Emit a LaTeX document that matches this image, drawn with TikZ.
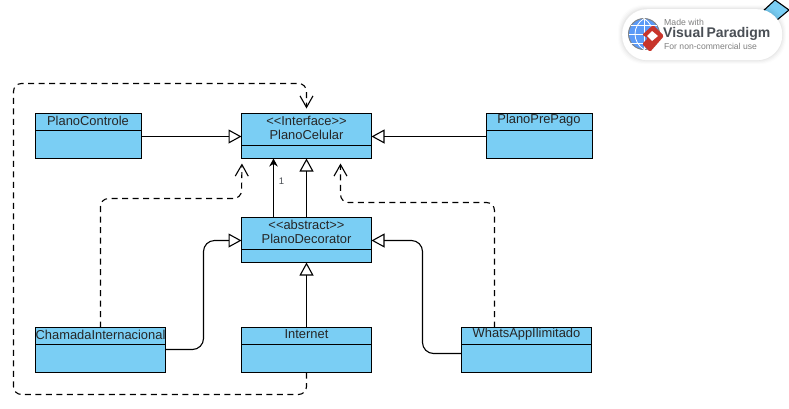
\documentclass[tikz,border=0pt]{standalone}
\usepackage{fontspec}
\setmainfont{Liberation Sans}
\usetikzlibrary{arrows.meta,calc}
\definecolor{cfill}{HTML}{7ACEF4}
\definecolor{ink}{HTML}{000000}
\definecolor{logogray}{HTML}{4A4F55}
\definecolor{logored}{HTML}{C8352B}
\tikzset{
  x=1pt,y=-1pt,
  cbox/.style={draw=ink,fill=cfill,line width=1.1pt,rectangle,inner sep=0pt,outer sep=0pt,anchor=north west,minimum height=45pt},
  ctext/.style={text=black!85,font=\fontsize{12.9}{14}\selectfont,align=center,anchor=center,inner sep=0pt},
  seprule/.style={draw=ink,line width=1.1pt},
  genline/.style={draw=ink,line width=1.1pt,-{Triangle[open,length=13pt,width=14pt,fill=white,line width=1.1pt]}},
  depline/.style={draw=ink,line width=1.1pt,dash pattern=on 6pt off 4.5pt,rounded corners=8pt,-{Straight Barb[length=11.5pt,width=13pt,line width=1.1pt]},shorten >=5pt},
  assocline/.style={draw=ink,line width=1.1pt,-{Stealth[length=8pt,width=8.5pt]}},
  genbend/.style={rounded corners=11pt}
}
\begin{document}
\begin{tikzpicture}
\useasboundingbox (0,0) rectangle (789,408);
% boxes
\node[cbox,minimum width=130pt] (cel) at (241.5,113.5) {};
\node[cbox,minimum width=130pt] (dec) at (241.5,217.5) {};
\node[cbox,minimum width=106pt] (ctl) at (35.5,113.5) {};
\node[cbox,minimum width=106pt] (pre) at (486.5,113.5) {};
\node[cbox,minimum width=130pt] (cha) at (35.5,327.5) {};
\node[cbox,minimum width=130pt] (int) at (241.5,327.5) {};
\node[cbox,minimum width=130pt] (wha) at (461.5,327.5) {};
% compartment rules
\draw[seprule] ($(cel.north west)+(0,32)$) -- ($(cel.north east)+(0,32)$);
\draw[seprule] ($(dec.north west)+(0,32)$) -- ($(dec.north east)+(0,32)$);
\draw[seprule] ($(ctl.north west)+(0,17)$) -- ($(ctl.north east)+(0,17)$);
\draw[seprule] ($(pre.north west)+(0,17)$) -- ($(pre.north east)+(0,17)$);
\draw[seprule] ($(cha.north west)+(0,17)$) -- ($(cha.north east)+(0,17)$);
\draw[seprule] ($(int.north west)+(0,17)$) -- ($(int.north east)+(0,17)$);
\draw[seprule] ($(wha.north west)+(0,17)$) -- ($(wha.north east)+(0,17)$);
% titles
\node[ctext] (t1a) at (306.5,120.5) {<{}<Interface>{}>};
\node[ctext] (t1b) at (306.5,134.5) {PlanoCelular};
\node[ctext] (t2a) at (306.5,224.5) {<{}<abstract>{}>};
\node[ctext] (t2b) at (306.5,238.5) {PlanoDecorator};
\node[ctext] (t3) at (88,120.5) {PlanoControle};
\node[ctext] (t4) at (539,120.5) {PlanoPrePago};
\node[ctext] (t5) at (100.5,334.5) {ChamadaInternacional};
\node[ctext] (t6) at (306.5,334.5) {Internet};
\node[ctext] (t7) at (526.5,334.5) {WhatsAppIlimitado};
% generalisations
\draw[genline] ($(ctl.north east)+(0,23)$) -- ($(cel.north west)+(0,23)$);
\draw[genline] ($(pre.north west)+(0,23)$) -- ($(cel.north east)+(0,23)$);
\draw[genline] (dec.north) -- (cel.south);
\draw[genline] (int.north) -- (dec.south);
\draw[genline,genbend] ($(cha.north east)+(0,22)$) -- ++(38,0) |- ($(dec.north west)+(0,23)$);
\draw[genline,genbend] ($(wha.north west)+(0,26)$) -- ++(-39,0) |- ($(dec.north east)+(0,23)$);
% association
\draw[assocline] ($(dec.north west)+(32,0)$) -- ($(cel.south west)+(32,0)$);
\node[inner sep=0pt,text=logogray,font=\fontsize{9.5}{10}\selectfont] (one) at (281.5,181) {1};
% dependencies
\draw[depline] (cha.north) -- (100.5,198.5) -- (241.5,198.5) -- ($(cel.south west)+(0.5,0)$);
\draw[depline] ($(wha.north west)+(33,0)$) -- (494.5,202.5) -- (340.5,202.5) -- ($(cel.south west)+(99,0)$);
\draw[depline] (int.south) -- (306.5,394.5) -- (13.5,394.5) -- (13.5,83.5) -- (306.5,83.5) -- (cel.north);
% watermark logo
\draw[black,line width=1.1pt,fill=cfill] (762,12) -- (775,0) -- (789,10) -- (777,20) -- cycle;
\foreach \g/\o in {4/0.012,3/0.018,2/0.025,1/0.03}
  \fill[black,opacity=\o,rounded corners=25pt] (622-\g,9-\g) rectangle (782+\g,60+\g);
\node[fill=white,rounded corners=25pt,minimum width=160pt,minimum height=51pt,inner sep=0pt,anchor=north west] (pill) at (622,9) {};
\node[circle,draw=logogray!70,fill=cfill!75!blue,line width=1pt,minimum size=31pt,inner sep=0pt] (globe) at (644,34) {};
\draw[white,line width=0.8pt] (644,18.5) -- (644,49.5) (628.5,34) -- (659.5,34) (631,25) -- (657,25) (631,43) -- (657,43);
\draw[white,line width=0.8pt] (644,18.5) .. controls (632,26) and (632,42) .. (644,49.5);
\draw[white,line width=0.8pt] (644,18.5) .. controls (656,26) and (656,42) .. (644,49.5);
\fill[logored,rounded corners=1.5pt] (653,25) -- (664,36) -- (650,52) -- (642,44) -- (648,38) -- (642,35) -- cycle;
\fill[white] (652,31) -- (658,36) -- (652,41) -- (647,36) -- cycle;
\node[inner sep=0pt,anchor=west,text=gray,font=\fontsize{8.7}{10}\selectfont] (l1) at (664,22.5) {Made with};
\node[inner sep=0pt,anchor=west,text=logogray,font=\fontsize{14}{15}\selectfont\bfseries] (l2) at (663,34) {Visual\,Paradigm};
\node[inner sep=0pt,anchor=west,text=gray,font=\fontsize{8.6}{10}\selectfont] (l3) at (664,46) {For non-commercial use};
\end{tikzpicture}
\end{document}
